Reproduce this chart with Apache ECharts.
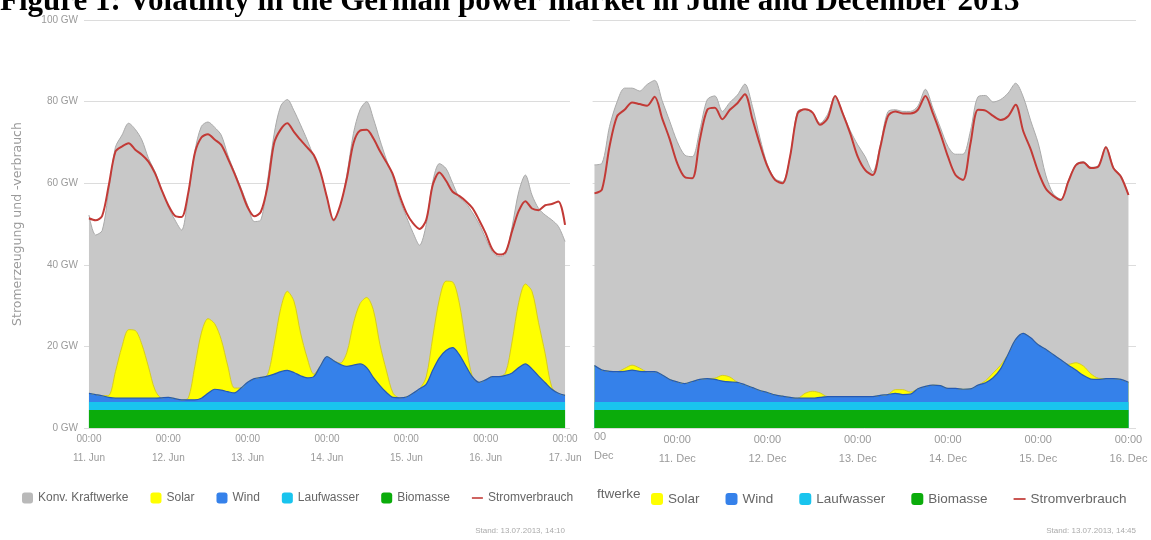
<!DOCTYPE html>
<html>
<head>
<meta charset="utf-8">
<title>Volatility in the German power market in June and December 2013</title>
<script src="https://cdn.jsdelivr.net/npm/echarts@6/dist/echarts.min.js"></script>
<style>
  html, body { margin: 0; padding: 0; background: #fff; }
  #chart { width: 1151px; height: 540px; }
</style>
</head>
<body>
<div id="chart"></div>
<script>
// one reading every 2 hours, hours counted from the first midnight of each week
const STEP_H = 2
const JUNE_START_H = 0   // 11. Jun 00:00
const DEC_START_H = 2    // 10. Dec 02:00, the screenshot is cut there

const juneDays = ['11. Jun', '12. Jun', '13. Jun', '14. Jun', '15. Jun', '16. Jun', '17. Jun']
const decDays = ['10. Dec', '11. Dec', '12. Dec', '13. Dec', '14. Dec', '15. Dec', '16. Dec']

// flat bands at the bottom, GW
const BIOMASSE_GW = 4.4
const LAUFWASSER_GW = 2.0

// June week, GW
const juneLoad = [
  51.4, 50.9, 52.0, 59.5, 67.7, 69.0, 69.8, 68.2, 67.0, 65.3, 62.4, 58.3,
  54.6, 52.0, 51.7, 57.5, 67.3, 71.2, 72.0, 70.7, 69.4, 66.1, 62.4, 58.3,
  54.1, 51.9, 53.0, 59.2, 69.8, 73.2, 74.7, 72.6, 70.6, 68.8, 66.9, 62.8,
  56.5, 51.0, 54.6, 61.2, 69.8, 72.9, 73.1, 71.0, 67.9, 65.1, 62.0, 56.9,
  52.8, 50.2, 48.8, 51.0, 59.6, 62.6, 60.6, 57.9, 56.9, 55.6, 53.9, 51.0,
  47.7, 43.8, 42.5, 43.1, 48.3, 53.2, 55.6, 53.8, 53.4, 54.6, 54.9, 55.5,
  49.8
]
// total generation = top of the grey area
const juneGeneration = [
  52.2, 47.3, 48.4, 58.3, 68.8, 71.8, 74.7, 73.2, 70.6, 66.1, 62.8, 58.3,
  54.2, 51.0, 48.5, 56.7, 67.7, 73.9, 75.0, 73.7, 71.8, 66.9, 62.8, 58.8,
  54.6, 50.6, 51.0, 60.5, 72.0, 78.9, 80.5, 77.8, 74.3, 70.6, 66.5, 62.4,
  56.5, 50.6, 54.2, 62.0, 72.2, 78.0, 80.0, 75.9, 70.6, 65.7, 61.4, 55.9,
  51.8, 47.9, 44.8, 49.8, 60.4, 64.8, 63.6, 60.0, 56.5, 55.1, 52.8, 50.0,
  46.5, 43.2, 42.0, 42.6, 49.4, 57.9, 62.0, 57.1, 53.8, 52.2, 51.0, 49.4,
  45.7
]
const juneWind = [
  2.1, 1.8, 1.5, 1.1, 0.9, 0.9, 0.9, 0.9, 0.9, 0.9, 0.9, 1.0,
  1.1, 0.8, 0.5, 0.5, 0.5, 0.9, 2.1, 3.1, 2.9, 2.5, 2.2, 3.4,
  4.8, 5.7, 6.0, 6.3, 6.8, 7.4, 7.7, 7.2, 6.4, 5.9, 6.2, 8.8,
  11.1, 10.1, 9.2, 8.7, 9.0, 9.3, 8.4, 6.0, 4.0, 2.3, 1.1, 1.0,
  1.2, 2.1, 3.2, 4.3, 7.8, 10.8, 12.6, 13.3, 11.6, 8.8, 6.1, 4.8,
  5.4, 6.2, 6.2, 6.5, 7.1, 8.4, 9.3, 8.1, 6.3, 4.7, 3.1, 2.1,
  1.6
]
const juneSolar = [
  0, 0, 0, 0.5, 6.5, 12.7, 16.8, 16.6, 13.2, 7.7, 2.0, 0,
  0, 0, 0, 0.4, 8.1, 16.0, 18.3, 16.1, 12.4, 6.3, 1.2, 0,
  0, 0, 0, 0.3, 7.2, 15.5, 19.4, 17.5, 10.5, 4.9, 0.6, 0,
  0, 0, 0.3, 3.4, 10.3, 14.8, 17.2, 16.6, 10.1, 5.3, 1.0, 0,
  0, 0, 0, 1.8, 8.1, 14.4, 17.0, 16.1, 12.7, 5.5, 0, 0,
  0, 0, 0, 0.6, 7.8, 16.0, 19.6, 19.0, 13.1, 7.1, 0.5, 0,
  0
]

// December week, GW (first reading 10. Dec 02:00)
const decLoad = [
  57.5, 58.5, 69.0, 76.4, 78.0, 79.8, 79.4, 79.0, 81.2, 75.9, 70.8,
  64.9, 61.5, 61.2, 70.6, 78.0, 78.5, 75.7, 78.0, 79.6, 81.8, 75.7, 69.5,
  64.1, 60.8, 60.0, 66.5, 77.1, 78.1, 77.3, 74.3, 75.9, 81.4, 77.1, 72.2,
  66.5, 63.2, 62.0, 68.8, 76.4, 77.6, 77.1, 77.1, 78.0, 81.4, 77.1, 72.1,
  66.5, 62.0, 60.8, 69.8, 78.0, 77.8, 76.5, 75.5, 76.4, 79.2, 72.8, 68.3,
  62.8, 58.7, 56.9, 55.9, 60.4, 64.4, 65.1, 63.7, 64.1, 68.8, 63.7, 61.6,
  57.1
]
const decGeneration = [
  64.5, 64.9, 73.9, 79.9, 83.3, 83.3, 82.6, 84.2, 85.2, 80.2, 75.2,
  70.2, 66.9, 66.5, 73.0, 80.5, 81.4, 77.6, 79.8, 81.6, 84.3, 78.8, 71.1,
  64.5, 61.1, 60.4, 66.5, 77.6, 78.1, 77.3, 74.7, 76.9, 81.4, 77.3, 72.9,
  69.4, 66.5, 62.8, 69.4, 77.5, 78.0, 77.6, 77.6, 78.9, 83.0, 78.4, 73.6,
  69.0, 67.1, 67.1, 72.9, 81.2, 81.5, 79.9, 80.5, 82.1, 84.5, 81.2, 75.3,
  69.8, 62.0, 57.4, 56.1, 60.6, 64.6, 65.3, 63.9, 64.3, 69.0, 63.9, 61.8,
  57.3
]
const decWind = [
  8.9, 7.8, 7.5, 7.4, 7.5, 7.8, 7.5, 7.4, 7.4, 6.6, 5.5,
  4.9, 4.5, 5.0, 5.5, 5.7, 5.5, 5.1, 4.9, 4.8, 4.2, 3.5, 2.8,
  2.3, 1.7, 1.4, 1.1, 0.9, 0.9, 0.9, 1.1, 1.3, 1.3, 1.3, 1.3,
  1.3, 1.3, 1.3, 1.6, 1.8, 2.1, 1.8, 1.9, 3.2, 3.8, 4.1, 4.0,
  3.3, 3.3, 3.1, 3.2, 4.1, 4.7, 5.9, 8.1, 11.7, 15.3, 16.8, 15.7,
  14.0, 12.9, 11.6, 10.3, 9.0, 7.8, 6.5, 5.6, 5.5, 5.7, 5.7, 5.5,
  4.8
]
const decSolar = [
  0, 0, 0, 0, 0.7, 1.2, 0.8, 0, 0, 0, 0,
  0, 0, 0, 0, 0, 0.3, 1.4, 1.2, 0, 0, 0, 0,
  0, 0, 0, 0, 0, 1.2, 1.7, 1.1, 0, 0, 0, 0,
  0, 0, 0, 0, 0, 0.9, 1.2, 0.5, 0, 0, 0, 0,
  0, 0, 0, 0, 0, 0.5, 1.2, 0.9, 0, 0, 0, 0,
  0, 0, 0, 0, 0.2, 1.8, 2.3, 1.3, 0.3, 0, 0, 0,
  0
]

const names = ['Konv. Kraftwerke', 'Solar', 'Wind', 'Laufwasser', 'Biomasse', 'Stromverbrauch']
const colors = {
  konv: '#c8c8c8',
  solar: '#ffff00',
  wind: '#3581ea',
  hydro: '#19c4ee',
  bio: '#0bac0b',
  load: '#c23a36'
}

const chart = echarts.init(document.getElementById('chart'))

function hoursFrom(start, n) {
  const h = []
  for (let i = 0; i < n; i++) h.push(start + STEP_H * i)
  return h
}

function pairs(hours, values) {
  return values.map((v, i) => [hours[i], v])
}

// areas are drawn on top of each other from 0, so each one gets its top edge
function weekSeries(idx, start, gen, wind, solar, load) {
  const hours = hoursFrom(start, load.length)
  const first = hours[0]
  const last = hours[hours.length - 1]
  const base = BIOMASSE_GW + LAUFWASSER_GW
  const windTop = wind.map((w) => +(base + w).toFixed(2))
  const solarTop = solar.map((s, i) => +(windTop[i] + s).toFixed(2))
  const common = {
    type: 'line',
    xAxisIndex: idx,
    yAxisIndex: idx,
    symbol: 'none',
    smooth: 0.3,
    emphasis: { disabled: true }
  }
  return [
    {
      ...common,
      name: names[0],
      data: pairs(hours, gen),
      itemStyle: { color: '#b9b9b9' },
      lineStyle: { color: '#aaaaaa', width: 1 },
      areaStyle: { color: colors.konv, opacity: 1 }
    },
    {
      ...common,
      name: names[1],
      data: pairs(hours, solarTop),
      itemStyle: { color: colors.solar },
      lineStyle: { color: '#d6cc22', width: 1 },
      areaStyle: { color: colors.solar, opacity: 1 }
    },
    {
      ...common,
      name: names[2],
      data: pairs(hours, windTop),
      itemStyle: { color: colors.wind },
      lineStyle: { color: '#2459b5', width: 1.2 },
      areaStyle: { color: colors.wind, opacity: 1 }
    },
    {
      ...common,
      name: names[3],
      smooth: false,
      data: [[first, base], [last, base]],
      itemStyle: { color: colors.hydro },
      lineStyle: { width: 0 },
      areaStyle: { color: colors.hydro, opacity: 1 }
    },
    {
      ...common,
      name: names[4],
      smooth: false,
      data: [[first, BIOMASSE_GW], [last, BIOMASSE_GW]],
      itemStyle: { color: colors.bio },
      lineStyle: { width: 0 },
      areaStyle: { color: colors.bio, opacity: 1 }
    },
    {
      ...common,
      name: names[5],
      z: 5,
      data: pairs(hours, load),
      itemStyle: { color: colors.load },
      lineStyle: { color: colors.load, width: 2 }
    }
  ]
}

function dayTicks(from, to) {
  const t = []
  for (let h = from; h <= to; h += 24) t.push(h)
  return t
}

const grey = '#9a9a9a'
const labelFont = 'Liberation Sans'

function xAxis(idx, min, max, days, fontSize) {
  const ticks = dayTicks(Math.ceil(min / 24) * 24, max)
  return {
    type: 'value',
    gridIndex: idx,
    min: min,
    max: max,
    axisLine: { show: false },
    axisTick: { show: false },
    splitLine: { show: false },
    axisLabel: {
      customValues: ticks,
      color: grey,
      fontSize: fontSize,
      fontFamily: labelFont,
      lineHeight: 19,
      margin: 2,
      formatter: (v) => '00:00\n' + days[Math.round(v / 24)]
    }
  }
}

function yAxis(idx, showLabels) {
  return {
    type: 'value',
    gridIndex: idx,
    min: 0,
    max: 100,
    interval: 20,
    name: showLabels ? 'Stromerzeugung und -verbrauch' : '',
    nameLocation: 'middle',
    nameGap: 60,
    nameTextStyle: { color: grey, fontSize: 12.5, fontFamily: 'DejaVu Sans' },
    axisLine: { show: false },
    axisTick: { show: false },
    axisLabel: {
      show: showLabels,
      color: grey,
      fontSize: 10,
      fontFamily: labelFont,
      margin: 6,
      formatter: '{value} GW'
    },
    splitLine: { lineStyle: { color: '#dcdcdc', width: 1 } }
  }
}

const lineIcon = 'path://M0,0H14V2H0Z'

function legend(left, data, fontSize, size, gap) {
  return {
    left: left,
    top: 487,
    orient: 'horizontal',
    itemWidth: size,
    itemHeight: size,
    itemGap: gap,
    textStyle: { color: '#666', fontSize: fontSize, fontFamily: labelFont },
    data: data.map((n) => ({ name: n, icon: n === 'Stromverbrauch' ? lineIcon : 'roundRect' }))
  }
}

const smallText = { fill: '#aaa', fontSize: 8, fontFamily: labelFont }

chart.setOption({
  animation: false,
  backgroundColor: '#fff',
  title: {
    text: 'Figure 1: Volatility in the German power market in June and December 2013',
    left: 0,
    top: -14,
    padding: 0,
    textStyle: { fontFamily: 'Liberation Serif', fontWeight: 'bold', fontSize: 31, color: '#000' }
  },
  grid: [
    { left: 84, top: 20, width: 486, height: 408, outerBoundsMode: 'none' },
    { left: 592.6, top: 20, width: 543.4, height: 408, outerBoundsMode: 'none' }
  ],
  xAxis: [
    xAxis(0, JUNE_START_H - 1.5, 145.5, juneDays, 10),
    xAxis(1, DEC_START_H - 0.5, 146, decDays, 11)
  ],
  yAxis: [yAxis(0, true), yAxis(1, false)],
  legend: [
    legend(17, names, 12, 11, 22),
    legend(646, names.slice(1), 13.5, 12, 26)
  ],
  graphic: [
    // pieces of the cut-off December screenshot
    { type: 'text', left: 594, top: 431, style: { text: '00', fill: grey, fontSize: 11, fontFamily: labelFont } },
    { type: 'text', left: 594, top: 450, style: { text: 'Dec', fill: grey, fontSize: 11, fontFamily: labelFont } },
    { type: 'text', left: 597, top: 487, style: { text: 'ftwerke', fill: '#666', fontSize: 13.5, fontFamily: labelFont } },
    { type: 'text', right: 586, top: 527, style: { ...smallText, text: 'Stand: 13.07.2013, 14:10' } },
    { type: 'text', right: 15, top: 527, style: { ...smallText, text: 'Stand: 13.07.2013, 14:45' } }
  ],
  series: [
    ...weekSeries(0, JUNE_START_H, juneGeneration, juneWind, juneSolar, juneLoad),
    ...weekSeries(1, DEC_START_H, decGeneration, decWind, decSolar, decLoad)
  ]
})
</script>
</body>
</html>
